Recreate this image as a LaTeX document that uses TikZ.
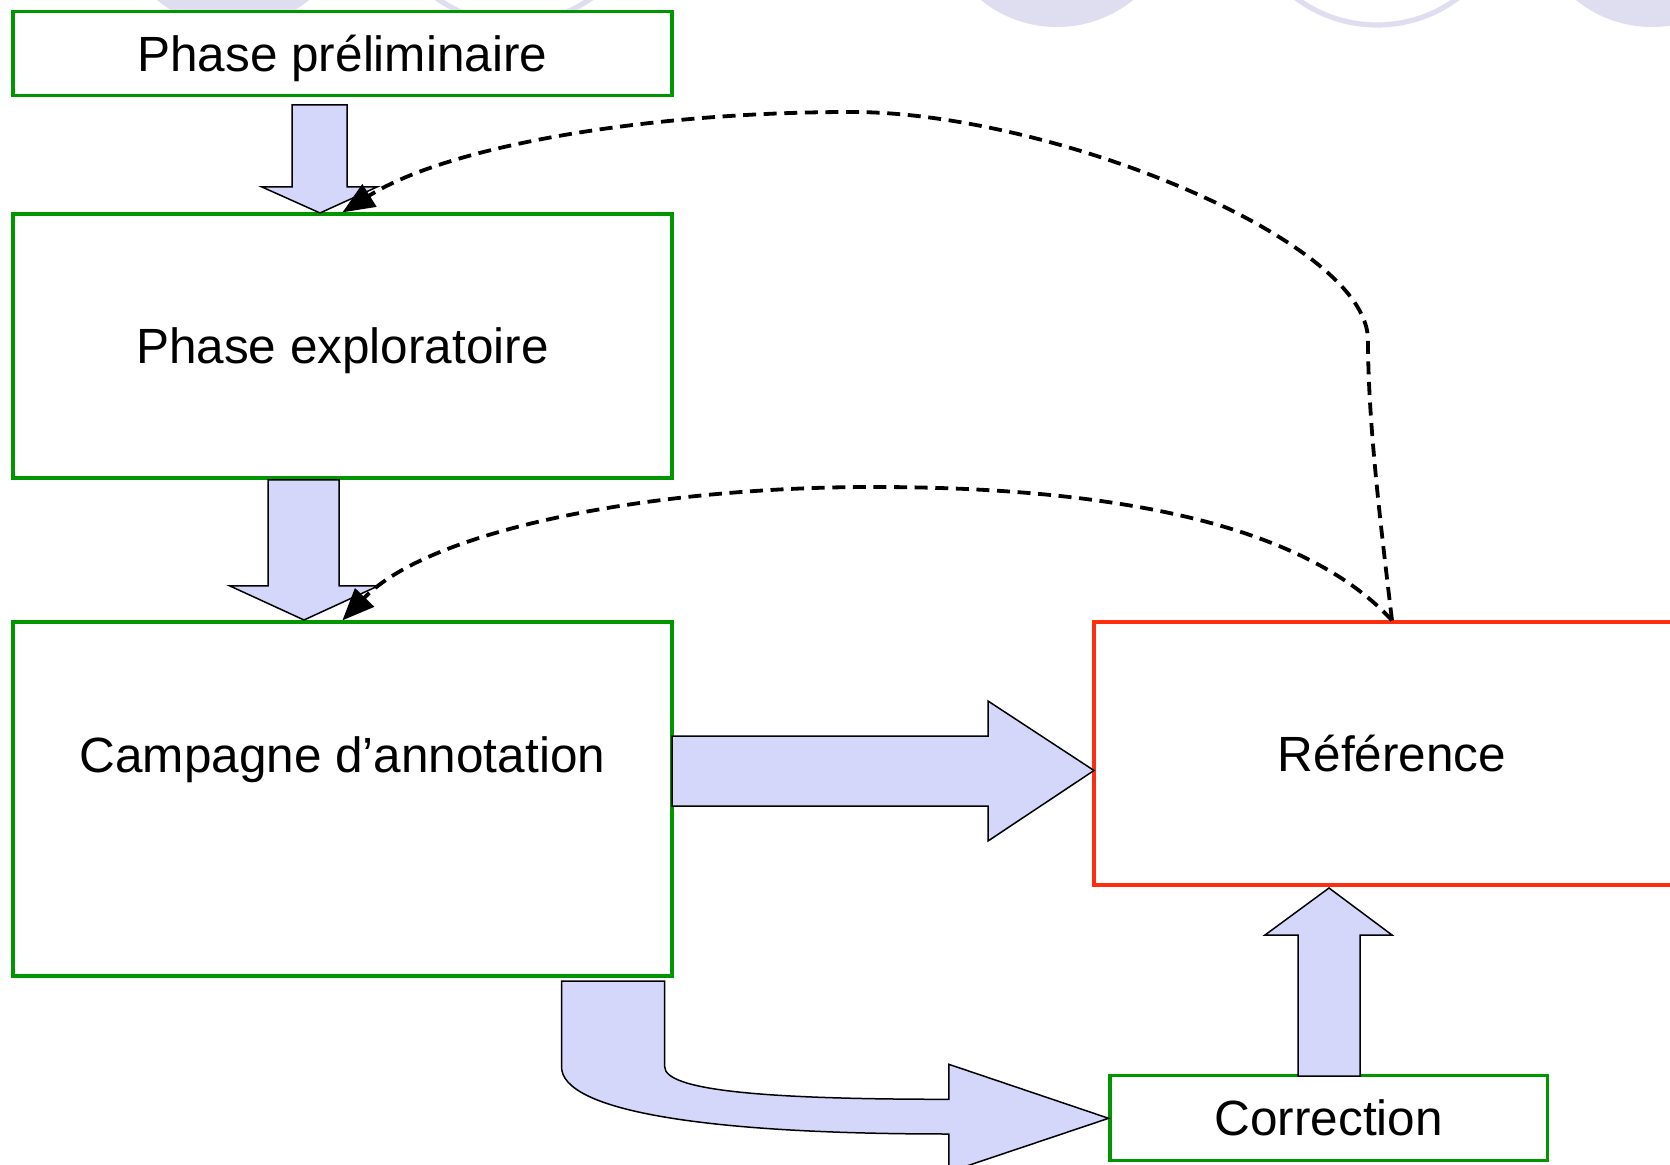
\documentclass[tikz,border=0pt]{standalone}
\usepackage{fontspec}
\setmainfont{Liberation Sans}
\usetikzlibrary{arrows.meta}
\definecolor{boxgreen}{RGB}{0,150,0}
\definecolor{boxred}{RGB}{255,45,15}
\definecolor{arrowfill}{RGB}{212,214,250}
\definecolor{deco}{RGB}{222,222,240}
\begin{document}
\begin{tikzpicture}[x=0.5pt,y=-0.5pt,
  every node/.style={font=\fontsize{24.75pt}{29pt}\selectfont, inner sep=0pt, text height=17.7pt, text depth=0pt},
  gbox/.style={draw=boxgreen, line width=1.6pt, fill=white},
  rbox/.style={draw=boxred, line width=1.6pt, fill=white},
  blockarrow/.style={draw=black, line width=0.75pt, fill=arrowfill, line join=miter},
  dashconn/.style={draw=black, line width=1.9pt, dash pattern=on 6.5pt off 3.8pt,
    -{Triangle[length=16pt,width=13pt]}}]
\clip (0,0) rectangle (1670,1165);
\fill[white] (0,0) rectangle (1670,1165);

% decorative discs along the top edge
\fill[deco] (233,-94) circle[radius=121];
\draw[deco, line width=2.6pt] (514,-110) circle[radius=133];
\fill[deco] (1057,-94) circle[radius=121];
\draw[deco, line width=2.6pt] (1377,-110) circle[radius=135];
\fill[deco] (1652,-94) circle[radius=121];

% stage boxes
\node[gbox, minimum width=329.5pt, minimum height=42pt] (pre) at (342.4,53.8) {Phase préliminaire};
\node[gbox, minimum width=329.5pt, minimum height=132pt] (exp) at (342.4,346) {Phase exploratoire};
\node[gbox, minimum width=329.5pt, minimum height=177pt] (camp) at (342.4,799) {};
\node (camptext) at (342.4,755) {Campagne d’annotation};
\node[rbox, minimum width=298pt, minimum height=131.5pt] (ref) at (1392,753.5) {Référence};
\node[gbox, minimum width=218.75pt, minimum height=42.15pt] (corr) at (1328.8,1118) {Correction};

% block arrows between stages
\draw[blockarrow] (292,105) -- (347,105) -- (347,187) -- (377,187) -- (320,213)
  -- (262,187) -- (292,187) -- cycle;
\draw[blockarrow] (268,480) -- (339,480) -- (339,586) -- (378,586) -- (304,620)
  -- (230,586) -- (268,586) -- cycle;
\draw[blockarrow] (672,736) -- (988,736) -- (988,701) -- (1094,770.5) -- (988,841)
  -- (988,806) -- (672,806) -- cycle;
\draw[blockarrow] (1298,1076) -- (1298,935) -- (1265,935) -- (1329,888) -- (1392,935)
  -- (1360,935) -- (1360,1076) -- cycle;
\draw[blockarrow] (561.5,981) -- (561.5,1066.7)
  .. controls (561.5,1110) and (700,1134) .. (948.8,1134)
  -- (948.8,1172) -- (1108.6,1118.3) -- (948.8,1064.3) -- (948.8,1099.3)
  .. controls (760,1099.3) and (664.7,1090) .. (664.7,1066.7)
  -- (664.7,981) -- cycle;

% feedback connectors from the reference
\draw[dashconn] (ref.north) .. controls (1380,520) and (1368,420) .. (1368,340)
  .. controls (1368,240) and (1050,112) .. (852,112)
  .. controls (650,112) and (450,145) .. (exp.north);
\draw[dashconn] (ref.north) .. controls (1300,520) and (1100,487) .. (873,487)
  .. controls (650,487) and (430,530) .. (camp.north);
\end{tikzpicture}
\end{document}
